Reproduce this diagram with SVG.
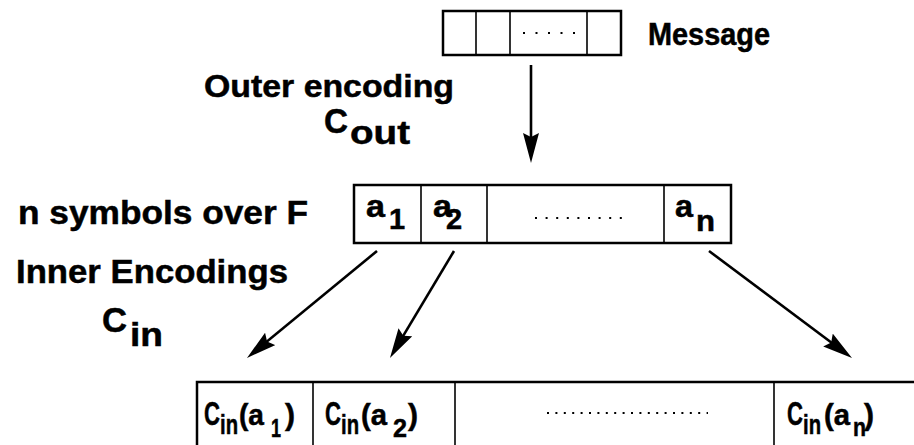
<svg xmlns="http://www.w3.org/2000/svg" width="914" height="445" viewBox="0 0 914 445">
<style>
  .t { font-family: "Liberation Sans", Arial, sans-serif; font-weight: bold; fill: #000; stroke: #000; stroke-width: 0.5; }
  .box { fill: #fff; stroke: #000; stroke-width: 2.5; }
  .div { stroke: #000; stroke-width: 1.6; }
  .dots { stroke: #000; stroke-width: 2; stroke-linecap: butt; }
  .conn { stroke: #000; stroke-width: 2.6; fill: none; }
</style>
<defs>
  <marker id="ah" markerUnits="userSpaceOnUse" markerWidth="32" markerHeight="18" refX="20" refY="8" orient="auto">
    <path d="M0,0 L30,8 L0,16 L4,8 z" fill="#000"/>
  </marker>
</defs>
<rect width="914" height="445" fill="#fff"/>

<g id="message">
  <rect class="box" x="443" y="11" width="178" height="44" stroke-width="2"/>
  <line class="div" x1="476" y1="11" x2="476" y2="55"/>
  <line class="div" x1="510" y1="11" x2="510" y2="55"/>
  <line class="div" x1="587" y1="11" x2="587" y2="55"/>
  <line class="dots" x1="523" y1="33" x2="575" y2="33" stroke-dasharray="2,10.5"/>
  <text class="t" x="648" y="45" font-size="31" textLength="122" lengthAdjust="spacingAndGlyphs">Message</text>
</g>

<g id="outer-label">
  <text class="t" x="204" y="97" font-size="32" textLength="250" lengthAdjust="spacingAndGlyphs">Outer encoding</text>
  <text class="t" x="324" y="133" font-size="35" textLength="24" lengthAdjust="spacingAndGlyphs">C</text>
  <text class="t" x="350" y="144" font-size="33" textLength="60" lengthAdjust="spacingAndGlyphs">out</text>
</g>

<g id="symbols">
  <text class="t" x="18" y="224" font-size="34" textLength="290" lengthAdjust="spacingAndGlyphs">n symbols over F</text>
  <rect class="box" x="354" y="185" width="377" height="58"/>
  <line class="div" x1="421" y1="185" x2="421" y2="243"/>
  <line class="div" x1="487" y1="185" x2="487" y2="243"/>
  <line class="div" x1="664" y1="185" x2="664" y2="243"/>
  <text class="t" x="366" y="217" font-size="32" textLength="19" lengthAdjust="spacingAndGlyphs">a</text>
  <text class="t" x="389" y="229" font-size="29">1</text>
  <text class="t" x="433" y="217" font-size="32" textLength="19" lengthAdjust="spacingAndGlyphs">a</text>
  <text class="t" x="446" y="229" font-size="29">2</text>
  <line class="dots" x1="535" y1="218" x2="622" y2="218" stroke-dasharray="2,8.6"/>
  <text class="t" x="675" y="217" font-size="32" textLength="18" lengthAdjust="spacingAndGlyphs">a</text>
  <text class="t" x="696" y="231" font-size="29" textLength="19" lengthAdjust="spacingAndGlyphs">n</text>
</g>

<g id="inner-label">
  <text class="t" x="16" y="283" font-size="34" textLength="272" lengthAdjust="spacingAndGlyphs">Inner Encodings</text>
  <text class="t" x="102" y="332" font-size="35" textLength="25" lengthAdjust="spacingAndGlyphs">C</text>
  <text class="t" x="130" y="346" font-size="33" textLength="33" lengthAdjust="spacingAndGlyphs">in</text>
</g>

<g id="codewords">
  <rect class="box" x="197" y="382" width="740" height="80"/>
  <line class="div" x1="313" y1="382" x2="313" y2="445"/>
  <line class="div" x1="455" y1="382" x2="455" y2="445"/>
  <line class="div" x1="774" y1="382" x2="774" y2="445"/>

  <text class="t" x="204" y="425" font-size="33" textLength="16" lengthAdjust="spacingAndGlyphs">C</text>
  <text class="t" x="220" y="434" font-size="28" textLength="18" lengthAdjust="spacingAndGlyphs">in</text>
  <text class="t" x="239" y="425" font-size="30" textLength="25" lengthAdjust="spacingAndGlyphs">(a</text>
  <text class="t" x="271" y="437" font-size="26" textLength="10" lengthAdjust="spacingAndGlyphs">1</text>
  <text class="t" x="285" y="425" font-size="30">)</text>

  <text class="t" x="325" y="425" font-size="33" textLength="16" lengthAdjust="spacingAndGlyphs">C</text>
  <text class="t" x="341" y="434" font-size="28" textLength="18" lengthAdjust="spacingAndGlyphs">in</text>
  <text class="t" x="361" y="425" font-size="30" textLength="26" lengthAdjust="spacingAndGlyphs">(a</text>
  <text class="t" x="393" y="437" font-size="26" textLength="14" lengthAdjust="spacingAndGlyphs">2</text>
  <text class="t" x="408" y="425" font-size="30">)</text>

  <line class="dots" x1="547" y1="413" x2="708" y2="413" stroke-dasharray="2,6.4"/>

  <text class="t" x="787" y="425" font-size="33" textLength="16" lengthAdjust="spacingAndGlyphs">C</text>
  <text class="t" x="803" y="434" font-size="28" textLength="18" lengthAdjust="spacingAndGlyphs">in</text>
  <text class="t" x="824" y="425" font-size="30" textLength="26" lengthAdjust="spacingAndGlyphs">(a</text>
  <text class="t" x="853" y="436" font-size="26" textLength="13" lengthAdjust="spacingAndGlyphs">n</text>
  <text class="t" x="864" y="425" font-size="30">)</text>
</g>

<g id="connectors">
  <line class="conn" x1="531" y1="65" x2="531" y2="153" marker-end="url(#ah)"/>
  <line class="conn" x1="377" y1="251" x2="254.7" y2="351.6" marker-end="url(#ah)"/>
  <line class="conn" x1="454" y1="251" x2="395.1" y2="349.4" marker-end="url(#ah)"/>
  <line class="conn" x1="709" y1="251" x2="844" y2="352" marker-end="url(#ah)"/>
</g>
</svg>
